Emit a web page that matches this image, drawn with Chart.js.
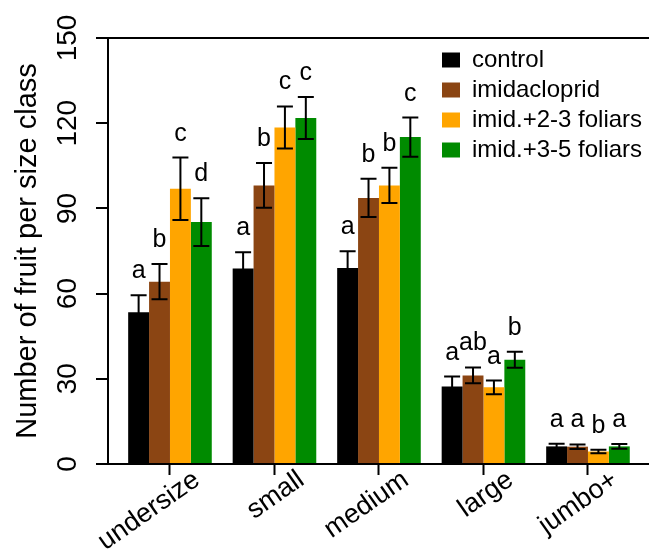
<!DOCTYPE html>
<html>
<head>
<meta charset="utf-8">
<title>Number of fruit per size class</title>
<script src="https://cdn.jsdelivr.net/npm/chart.js@4.4.1/dist/chart.umd.min.js"></script>
<style>
  html, body { margin: 0; padding: 0; background: #fff; }
  #wrap { width: 649px; height: 552px; }
</style>
</head>
<body>
<div id="wrap"><canvas id="fruitChart" width="649" height="552"></canvas></div>
<script>
// size classes and y ticks
const categories = ["undersize", "small", "medium", "large", "jumbo+"];
const yTicks = [0, 30, 60, 90, 120, 150];

// mean fruit count per class, one array per treatment
const control = [53.4, 68.8, 69.0, 27.3, 6.2];
const imidacloprid = [64.2, 98.1, 93.7, 31.2, 6.1];
const imidFoliar23 = [96.9, 118.5, 98.1, 27.0, 4.4];
const imidFoliar35 = [85.2, 121.8, 115.1, 36.7, 6.2];

// error bar half-lengths
const controlErr = [6.0, 5.8, 5.9, 3.5, 0.9];
const imidaclopridErr = [6.2, 7.9, 6.7, 2.8, 0.8];
const imidFoliar23Err = [11.0, 7.4, 6.2, 2.4, 0.6];
const imidFoliar35Err = [8.4, 7.4, 6.9, 2.8, 0.8];

// significance letters
const controlLetters = ["a", "a", "a", "a", "a"];
const imidaclopridLetters = ["b", "b", "b", "ab", "a"];
const imidFoliar23Letters = ["c", "c", "b", "a", "b"];
const imidFoliar35Letters = ["d", "c", "c", "b", "a"];

Chart.defaults.font.family = "'Liberation Sans', Arial, sans-serif";
Chart.defaults.color = "#000";

const toPoints = arr => arr.map((v, i) => ({ x: i, y: v }));

// error bars + letters on top of each bar
const errorBars = {
  id: "errorBars",
  afterDatasetsDraw(chart) {
    const ctx = chart.ctx;
    const ys = chart.scales.y;
    chart.data.datasets.forEach((ds, i) => {
      const meta = chart.getDatasetMeta(i);
      meta.data.forEach((bar, j) => {
        const v = ds.data[j].y, e = ds.err[j];
        const top = ys.getPixelForValue(v + e);
        const bot = ys.getPixelForValue(v - e);
        ctx.save();
        ctx.strokeStyle = "#000";
        ctx.lineWidth = 2;
        ctx.beginPath();
        ctx.moveTo(bar.x, top); ctx.lineTo(bar.x, bot);
        ctx.moveTo(bar.x - 8, top); ctx.lineTo(bar.x + 8, top);
        ctx.moveTo(bar.x - 8, bot); ctx.lineTo(bar.x + 8, bot);
        ctx.stroke();
        ctx.fillStyle = "#000";
        ctx.font = "25px 'Liberation Sans', Arial, sans-serif";
        ctx.textAlign = "center";
        ctx.textBaseline = "alphabetic";
        ctx.fillText(ds.letters[j], bar.x, top - 17);
        ctx.restore();
      });
    });
  }
};

// move the legend to the upper right of the plot
const legendSpot = {
  id: "legendSpot",
  afterLayout(chart) {
    chart.legend.left = 436;
    chart.legend.top = 42;
  }
};

new Chart(document.getElementById("fruitChart"), {
  type: "bar",
  data: {
    datasets: [
      { label: "control", data: toPoints(control), err: controlErr, letters: controlLetters, backgroundColor: "#000000" },
      { label: "imidacloprid", data: toPoints(imidacloprid), err: imidaclopridErr, letters: imidaclopridLetters, backgroundColor: "#8B4513" },
      { label: "imid.+2-3 foliars", data: toPoints(imidFoliar23), err: imidFoliar23Err, letters: imidFoliar23Letters, backgroundColor: "#FFA500" },
      { label: "imid.+3-5 foliars", data: toPoints(imidFoliar35), err: imidFoliar35Err, letters: imidFoliar35Letters, backgroundColor: "#008B00" }
    ]
  },
  options: {
    responsive: false,
    animation: false,
    devicePixelRatio: 1,
    categoryPercentage: 0.8,
    barPercentage: 1.0,
    layout: { padding: { top: 38, left: 0, right: 0, bottom: 0 } },
    plugins: {
      tooltip: { enabled: false },
      legend: {
        position: "chartArea",
        align: "start",
        labels: { boxWidth: 18, boxHeight: 15, padding: 6, color: "#000", font: { size: 24 } }
      }
    },
    scales: {
      x: {
        type: "linear",
        min: -0.593,
        max: 4.584,
        offset: false,
        afterFit: s => { s.height = 88; },
        afterBuildTicks: s => { s.ticks = categories.map((c, i) => ({ value: i })); },
        border: { color: "#000", width: 2 },
        grid: { offset: false, drawOnChartArea: false, tickColor: "#000", tickLength: 11, tickWidth: 2 },
        ticks: {
          autoSkip: false, minRotation: 35, maxRotation: 35, labelOffset: 27, padding: -11,
          color: "#000", font: { size: 27 },
          callback: v => categories[v]
        }
      },
      y: {
        min: 0,
        max: 150,
        afterFit: s => { s.width = 108; },
        afterBuildTicks: s => { s.ticks = yTicks.map(v => ({ value: v })); },
        border: { color: "#000", width: 2 },
        grid: {
          color: c => (c.tick && c.tick.value === 150 ? "#000" : "rgba(0,0,0,0)"),
          lineWidth: 2, tickColor: "#000", tickLength: 12, tickWidth: 2
        },
        ticks: { minRotation: 90, maxRotation: 90, crossAlign: "center", padding: 4, color: "#000", font: { size: 28 } },
        title: {
          display: true, text: "Number of fruit per size class", color: "#000",
          font: { size: 29 }, padding: { top: 11, bottom: 0 }
        }
      }
    }
  },
  plugins: [errorBars, legendSpot]
});
</script>
</body>
</html>
